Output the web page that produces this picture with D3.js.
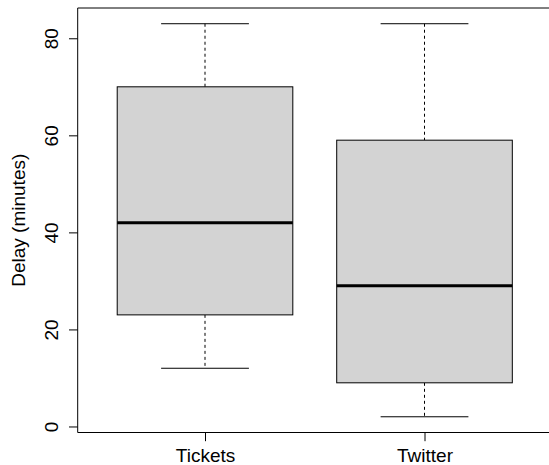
<!DOCTYPE html>
<html>
<head>
<style>
  body {
    margin: 0;
    background-color: #ffffff;
  }

  svg {
    display: block;
    font-family: "Liberation Sans", Arial, Helvetica, sans-serif;
  }
</style>
  <script src="https://d3js.org/d3.v7.min.js"></script>
</head>
<body>
<script>
  // one box per category
  const categories = ['Tickets', 'Twitter'];
  const lowerWhisker = [12, 2];
  const lowerQuartile = [23, 9];
  const medians = [42, 29];
  const upperQuartile = [70, 59];
  const upperWhisker = [83, 83];
  const yTicks = [0, 20, 40, 60, 80];

  const width = 549;
  const height = 465;

  // plot region, R style (4% padding on both axes)
  const plot = {
    left: 77.7,
    top: 8,
    bottom: 432.5,
  };

  const svg = d3.select('body')
    .append('svg')
    .attr('width', width)
    .attr('height', height);

  const x = d3.scaleLinear()
    .domain([0.42, 2.58])
    .range([plot.left, plot.left + 2.16 * 219.5]);

  const y = d3.scaleLinear()
    .domain([-1.24, 86.24])
    .range([plot.bottom, plot.top]);

  const boxHalf = 0.4;
  const capHalf = 0.2;

  const boxes = categories.map((name, i) => ({
    name: name,
    pos: i + 1,
    lo: lowerWhisker[i],
    q1: lowerQuartile[i],
    med: medians[i],
    q3: upperQuartile[i],
    hi: upperWhisker[i],
  }));

  const group = svg.selectAll('g.box')
    .data(boxes)
    .join('g')
    .attr('class', 'box');

  // dashed whiskers
  group.append('line')
    .attr('x1', d => x(d.pos))
    .attr('x2', d => x(d.pos))
    .attr('y1', d => y(d.hi))
    .attr('y2', d => y(d.q3))
    .attr('stroke', '#000')
    .attr('stroke-dasharray', '3,3');

  group.append('line')
    .attr('x1', d => x(d.pos))
    .attr('x2', d => x(d.pos))
    .attr('y1', d => y(d.q1))
    .attr('y2', d => y(d.lo))
    .attr('stroke', '#000')
    .attr('stroke-dasharray', '3,3');

  // whisker caps
  group.append('line')
    .attr('x1', d => x(d.pos - capHalf))
    .attr('x2', d => x(d.pos + capHalf))
    .attr('y1', d => y(d.hi))
    .attr('y2', d => y(d.hi))
    .attr('stroke', '#000');

  group.append('line')
    .attr('x1', d => x(d.pos - capHalf))
    .attr('x2', d => x(d.pos + capHalf))
    .attr('y1', d => y(d.lo))
    .attr('y2', d => y(d.lo))
    .attr('stroke', '#000');

  // boxes
  group.append('rect')
    .attr('x', d => x(d.pos - boxHalf))
    .attr('width', d => x(d.pos + boxHalf) - x(d.pos - boxHalf))
    .attr('y', d => y(d.q3))
    .attr('height', d => y(d.q1) - y(d.q3))
    .attr('fill', '#d3d3d3')
    .attr('stroke', '#000');

  // medians
  group.append('line')
    .attr('x1', d => x(d.pos - boxHalf))
    .attr('x2', d => x(d.pos + boxHalf))
    .attr('y1', d => y(d.med))
    .attr('y2', d => y(d.med))
    .attr('stroke', '#000')
    .attr('stroke-width', 3);

  // frame around the plot; its right side falls off the canvas
  svg.append('path')
    .attr('d', `M${width + 5},${plot.top}H${plot.left}V${plot.bottom}H${width + 5}`)
    .attr('fill', 'none')
    .attr('stroke', '#000');

  // y axis, labels rotated like R's default las = 0
  const yAxis = svg.append('g')
    .attr('transform', `translate(${plot.left},0)`)
    .call(d3.axisLeft(y).tickValues(yTicks).tickSize(8.7).tickFormat(d3.format('d')));

  yAxis.select('.domain').remove();
  yAxis.selectAll('.tick line').attr('stroke', '#000');
  yAxis.selectAll('.tick text')
    .attr('x', 0)
    .attr('y', 0)
    .attr('dy', null)
    .attr('transform', 'translate(-19.2,0) rotate(-90)')
    .attr('text-anchor', 'middle')
    .attr('fill', '#000')
    .attr('font-size', 19)
    .attr('font-family', '"Liberation Sans", Arial, sans-serif');

  // x axis
  const xAxis = svg.append('g')
    .attr('transform', `translate(0,${plot.bottom})`)
    .call(d3.axisBottom(x).tickValues([1, 2]).tickSize(8.7).tickFormat(d => categories[d - 1]));

  xAxis.select('.domain').remove();
  xAxis.selectAll('.tick line').attr('stroke', '#000');
  xAxis.selectAll('.tick text')
    .attr('y', 29)
    .attr('dy', null)
    .attr('fill', '#000')
    .attr('font-size', 19)
    .attr('font-family', '"Liberation Sans", Arial, sans-serif');

  // y title
  svg.append('text')
    .attr('transform', `translate(25,${(plot.top + plot.bottom) / 2}) rotate(-90)`)
    .attr('text-anchor', 'middle')
    .attr('font-size', 19)
    .attr('fill', '#000')
    .text('Delay (minutes)');
</script>
</body>
</html>
